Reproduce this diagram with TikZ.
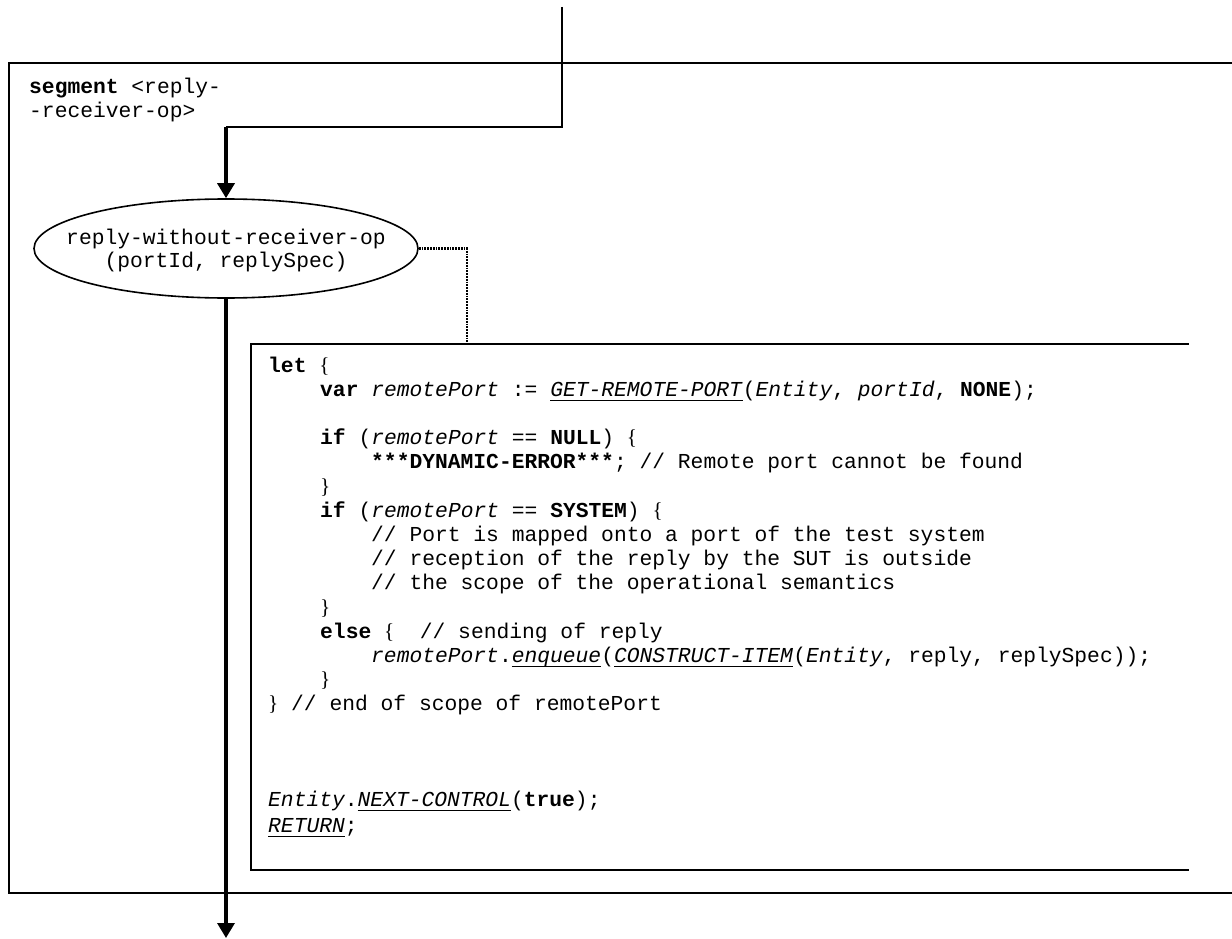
\documentclass[tikz,border=0pt]{standalone}
\usepackage{fontspec}
\setmainfont{Liberation Serif}
\setmonofont{Liberation Mono}
\usetikzlibrary{arrows.meta,shapes.geometric}
\newcommand\obr{{\rmfamily\{}}
\newcommand\cbr{{\rmfamily\}}}
\newcommand\uln[1]{\setbox0\hbox{#1}\rlap{\rule[-5pt]{\wd0}{1.3pt}}\box0}
\tikzset{
  code/.style={inner sep=0pt, anchor=base west, font=\ttfamily\fontsize{21.3pt}{24.2pt}\selectfont},
  frame/.style={line width=1.7pt, line cap=rect},
  codebox/.style={line width=2.1pt, line cap=rect},
  thinflow/.style={line width=1.6pt},
  thickflow/.style={line width=3.4pt, -{Triangle[length=15pt,width=17pt]}},
  dotline/.style={line width=2.4pt, dash pattern=on 1.8pt off 1pt},
  opnode/.style={ellipse, draw, line width=1.6pt, minimum width=384pt, minimum height=99pt, inner sep=0pt},
  optext/.style={inner sep=0pt, align=center, font=\ttfamily\fontsize{21.3pt}{23pt}\selectfont}
}
\begin{document}
\begin{tikzpicture}[x=1pt,y=-1pt]
\useasboundingbox (0,0) rectangle (1232,939);
% outer segment frame (open to the right)
\draw[frame] (1240,63) -- (9,63) -- (9,893) -- (1240,893);
\node[code] (seg1) at (29,94) {\textbf{segment} <reply-};
\node[code] (seg2) at (29,117.5) {-receiver-op>};
% operation ellipse
\node[opnode] (op) at (226,248.5) {};
\node[optext] (optxt) at (226,250) {reply-without-receiver-op\\(portId, replySpec)};
% incoming flow
\coordinate (in0) at (562,7);
\coordinate (in1) at (562,127);
\coordinate (in2) at (226,127);
\draw[thinflow] (in0) -- (in1) -- (in2);
\draw[thickflow] (in2) -- (op.north);
% outgoing flow
\coordinate (out) at (226,938);
\draw[thickflow] (op.south) -- (out);
% code box (open to the right)
\coordinate (cbTR) at (1188,344);
\coordinate (cbTL) at (251,344);
\coordinate (cbBL) at (251,870);
\coordinate (cbBR) at (1188,870);
\draw[codebox] (cbTR) -- (cbTL) -- (cbBL) -- (cbBR);
% dotted link
\coordinate (d1) at (467,248.5);
\coordinate (d2) at (467,344);
\draw[dotline] (op.east) -- (d1) -- (d2);
% code text
\node[code] (l1) at (268,372) {\textbf{let} \obr};
\node[code] (l2) at (320,396.2) {\textbf{var} \textit{remotePort} := \uln{\textit{GET-REMOTE-PORT}}(\textit{Entity}, \textit{portId}, \textbf{NONE});};
\node[code] (l3) at (320,444.6) {\textbf{if} (\textit{remotePort} == \textbf{NULL}) \obr};
\node[code] (l4) at (371,468.8) {\textbf{***DYNAMIC-ERROR***}; // Remote port cannot be found};
\node[code] (l5) at (320,493) {\cbr};
\node[code] (l6) at (320,517.2) {\textbf{if} (\textit{remotePort} == \textbf{SYSTEM}) \obr};
\node[code] (l7) at (371,541.4) {// Port is mapped onto a port of the test system};
\node[code] (l8) at (371,565.6) {// reception of the reply by the SUT is outside};
\node[code] (l9) at (371,589.8) {// the scope of the operational semantics};
\node[code] (l10) at (320,614) {\cbr};
\node[code] (l11) at (320,638.2) {\textbf{else} \obr\ \ // sending of reply};
\node[code] (l12) at (371,662.4) {\textit{remotePort}.\uln{\textit{enqueue}}(\uln{\textit{CONSTRUCT-ITEM}}(\textit{Entity}, reply, replySpec));};
\node[code] (l13) at (320,686.6) {\cbr};
\node[code] (l14) at (268,710.8) {\cbr\ // end of scope of remotePort};
\node[code] (l15) at (268,806) {\textit{Entity}.\uln{\textit{NEXT-CONTROL}}(\textbf{true});};
\node[code] (l16) at (268,832) {\uln{\textit{RETURN}};};
\end{tikzpicture}
\end{document}
